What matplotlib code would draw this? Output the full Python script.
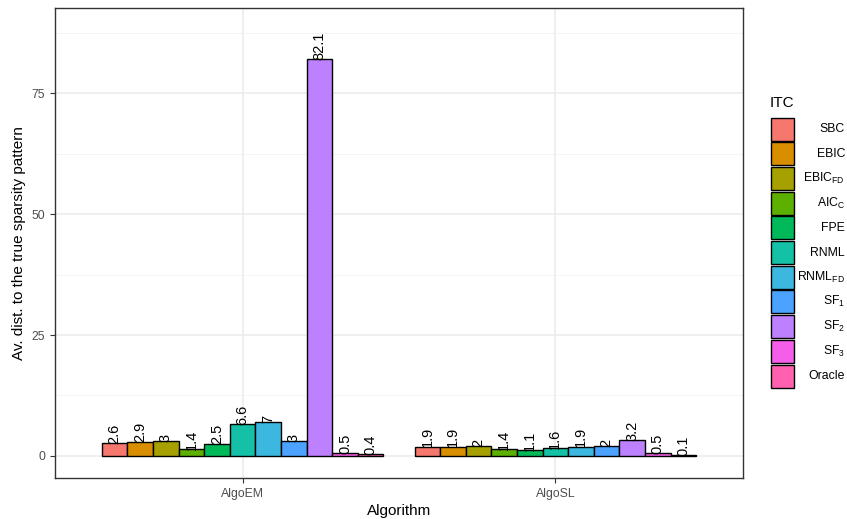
import matplotlib
matplotlib.use("Agg")
import matplotlib.pyplot as plt
from matplotlib.patches import Rectangle
import numpy as np

plt.rcParams['font.family'] = ['Liberation Sans', 'DejaVu Sans']
plt.rcParams['mathtext.fontset'] = 'custom'
plt.rcParams['mathtext.rm'] = 'Liberation Sans'
plt.rcParams['mathtext.it'] = 'Liberation Sans'

algorithms = ["AlgoEM", "AlgoSL"]
itc_labels = ["SBC", "EBIC", r"EBIC$_{\mathrm{FD}}$", r"AIC$_{\mathrm{C}}$", "FPE", "RNML",
              r"RNML$_{\mathrm{FD}}$", r"SF$_{1}$", r"SF$_{2}$", r"SF$_{3}$", "Oracle"]
colors = ["#F5776D", "#D98E00", "#A6A100", "#5DB000", "#00BA5A", "#14C1A7",
          "#3BB7E0", "#4BA3FF", "#BD80FF", "#F45EE8", "#FF61B0"]
values_em = [2.6, 2.9, 3, 1.4, 2.5, 6.6, 7, 3, 82.1, 0.5, 0.4]
values_sl = [1.9, 1.9, 2, 1.4, 1.1, 1.6, 1.9, 2, 3.2, 0.5, 0.1]
values = [values_em, values_sl]

W, H = 847, 519
fig = plt.figure(figsize=(W / 100, H / 100), dpi=100)
ax = fig.add_axes([55 / W, 1 - 478 / H, (743 - 55) / W, (478 - 8) / H])

n = len(itc_labels)
bw = 0.9 / n
for gi, vals in enumerate(values):
    xc = gi + 1
    for i, v in enumerate(vals):
        x = xc - 0.45 + bw * i + bw / 2
        ax.bar(x, v, width=bw, color=colors[i], edgecolor='black', linewidth=1.0, zorder=3)
        ax.text(x, v - 0.15, f"{v:g}", rotation=90, ha='center', va='bottom', fontsize=10.5,
                color='black', zorder=4)

ax.set_xlim(0.4, 2.6)
ax.set_ylim(-4.6, 92.7)
ax.set_xticks([1, 2])
ax.set_xticklabels(algorithms)
ax.set_yticks([0, 25, 50, 75])
ax.set_yticks([12.5, 37.5, 62.5, 87.5], minor=True)
ax.set_xticks([], minor=True)
ax.grid(which='major', color='#EBEBEB', linewidth=1.1, zorder=0)
ax.grid(which='minor', axis='y', color='#F2F2F2', linewidth=0.6, zorder=0)
ax.set_axisbelow(True)
for s in ax.spines.values():
    s.set_color('#333333')
    s.set_linewidth(1.0)
ax.tick_params(axis='both', which='major', colors='#333333', labelcolor='#4D4D4D',
               labelsize=8.8, length=3.5, width=0.8)
ax.tick_params(axis='y', which='minor', length=0)
ax.set_xlabel("Algorithm", fontsize=11, color='black', labelpad=3)
ax.set_ylabel("Av. dist. to the true sparsity pattern", fontsize=11, color='black', labelpad=4)

# legend drawn manually in figure pixel coordinates
lax = fig.add_axes([0, 0, 1, 1], facecolor='none')
lax.set_xlim(0, W)
lax.set_ylim(H, 0)
lax.axis('off')
lax.text(770, 103, "ITC", fontsize=11, ha='left', va='center', color='black')
step = 24.7
y0 = 129
for i, (lab, c) in enumerate(zip(itc_labels, colors)):
    yc = y0 + i * step
    lax.add_patch(Rectangle((771, yc - 11.5), 23, 23, facecolor=c, edgecolor='black', linewidth=1.0))
    lax.text(845, yc, lab, fontsize=8.8, ha='right', va='center', color='black')

fig.savefig("out.png", dpi=100)
